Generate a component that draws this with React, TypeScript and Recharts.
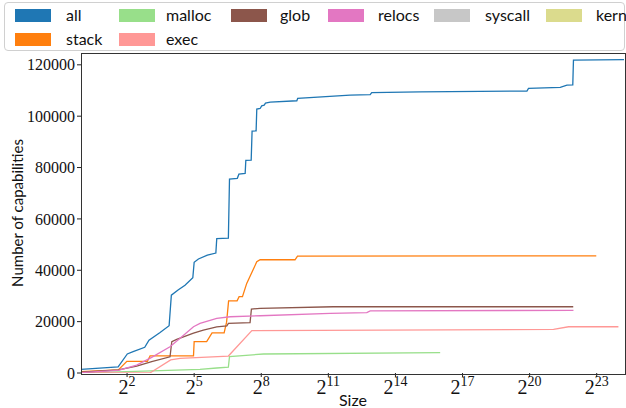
import React from "react";
import { Line, LineChart, XAxis, YAxis } from "recharts";

// x values are log2(size), y values are cumulative capability counts
const allLog2Size = [-0.06, 1.6, 2.01, 2.27, 2.79, 2.98, 3.46, 3.88, 3.98, 4.28, 4.59, 4.94, 5.0, 5.19, 5.59, 5.97, 6.01, 6.53, 6.58, 6.93, 7.0, 7.28, 7.31, 7.55, 7.59, 7.77, 7.8, 7.95, 8.02, 8.13, 8.19, 8.4, 9.59, 9.63, 11.97, 12.87, 12.94, 15.1, 19.88, 19.95, 21.37, 21.67, 21.93, 21.96, 24.22];
const allCount = [1400, 2400, 7400, 8300, 10000, 12800, 15700, 18400, 30300, 32300, 34200, 37100, 43100, 44400, 45900, 46700, 52300, 52500, 75500, 75800, 77400, 77700, 82800, 82900, 94200, 94300, 102800, 103000, 104000, 104300, 105100, 105500, 106000, 106900, 108200, 108400, 109200, 109500, 109800, 110800, 111200, 112100, 112200, 121800, 122000];

const stackLog2Size = [-0.06, 1.61, 1.99, 2.91, 3.03, 4.97, 5.0, 5.56, 5.8, 6.34, 6.45, 6.54, 6.92, 7.01, 7.16, 7.35, 7.8, 7.95, 9.51, 9.62, 22.98];
const stackCount = [500, 1200, 4550, 4550, 6700, 6700, 12200, 12200, 15600, 15600, 19800, 28100, 28100, 29700, 29700, 34900, 43300, 44100, 44100, 45500, 45600];

const globLog2Size = [-0.06, 1.61, 2.43, 3.1, 3.92, 4.0, 4.22, 4.97, 5.41, 6.01, 6.46, 6.53, 7.5, 7.56, 7.95, 11.21, 21.95];
const globCount = [300, 1200, 2700, 4400, 6300, 12200, 13100, 15500, 16700, 18000, 18300, 19300, 19600, 24900, 25200, 25800, 25800];

const relocsLog2Size = [-0.06, 1.61, 2.43, 3.1, 3.92, 4.37, 4.97, 5.26, 6.01, 6.61, 7.95, 11.08, 12.72, 12.87, 21.96];
const relocsCount = [150, 1050, 3100, 6100, 10200, 13500, 18000, 19300, 21300, 21900, 22300, 23200, 23500, 24200, 24400];

const execLog2Size = [-0.06, 3.02, 3.95, 4.37, 6.53, 7.58, 21.07, 21.74, 23.97];
const execCount = [0, 0, 5100, 5700, 6600, 16500, 17000, 18000, 18000];

const mallocLog2Size = [-0.06, 1.6, 3.48, 5.26, 6.01, 6.53, 6.58, 8.1, 16.0];
const mallocCount = [0, 400, 900, 1400, 1950, 2300, 6400, 7400, 7900];

const xTicks = [2, 5, 8, 11, 14, 17, 20, 23];
const yTicks = [0, 20000, 40000, 60000, 80000, 100000, 120000];

const series = [
  { name: "all", color: "#1f77b4", xs: allLog2Size, ys: allCount },
  { name: "malloc", color: "#98df8a", xs: mallocLog2Size, ys: mallocCount },
  { name: "glob", color: "#8c564b", xs: globLog2Size, ys: globCount },
  { name: "relocs", color: "#e377c2", xs: relocsLog2Size, ys: relocsCount },
  { name: "syscall", color: "#c7c7c7", xs: [] as number[], ys: [] as number[] },
  { name: "kern", color: "#dbdb8d", xs: [] as number[], ys: [] as number[] },
  { name: "stack", color: "#ff7f0e", xs: stackLog2Size, ys: stackCount },
  { name: "exec", color: "#ff9896", xs: execLog2Size, ys: execCount },
];

const drawOrder = ["all", "stack", "malloc", "exec", "glob", "relocs"];

const legendPos: Record<string, [number, number, number]> = {
  all: [15, 9, 66],
  malloc: [119, 9, 166],
  glob: [231, 9, 280],
  relocs: [328, 9, 378],
  syscall: [434, 9, 485],
  kern: [546, 9, 596],
  stack: [15, 33, 66],
  exec: [119, 33, 166],
};

const sans = "Lato, 'Open Sans', sans-serif";
const serif = "'Liberation Serif', serif";

function PowTick(props: any) {
  const { x, y, payload } = props;
  return (
    <text x={x} y={y} textAnchor="middle" fontFamily={serif} fill="#111">
      <tspan fontSize={20} dy={15}>2</tspan>
      <tspan fontSize={14} dy={-8}>{payload.value}</tspan>
    </text>
  );
}

export default function App() {
  return (
    <div style={{ position: "absolute", left: 0, top: 0, width: 626, height: 408, background: "#fff", overflow: "hidden" }}>
      <LineChart width={626} height={408} margin={{ top: 53, right: 2, bottom: 0, left: 0 }}>
        <XAxis
          type="number"
          dataKey="x"
          domain={[-0.06, 24.22]}
          allowDataOverflow
          ticks={xTicks}
          tick={<PowTick />}
          height={35}
          axisLine={false}
          tickLine={{ stroke: "#222" }}
          tickSize={4}
        />
        <YAxis
          type="number"
          dataKey="y"
          domain={[0, 124600]}
          allowDataOverflow
          ticks={yTicks}
          width={81}
          axisLine={false}
          tickLine={{ stroke: "#222" }}
          tickSize={4}
          tickMargin={2}
          tick={{ fill: "#111", fontSize: 16, fontFamily: serif }}
        />
        {drawOrder.map((n) => {
          const s = series.find((q) => q.name === n)!;
          const data = s.xs.map((x, i) => ({ x, y: s.ys[i] }));
          return (
            <Line
              key={n}
              data={data}
              dataKey="y"
              type="linear"
              stroke={s.color}
              strokeWidth={1.3}
              dot={false}
              isAnimationActive={false}
            />
          );
        })}
      </LineChart>
      <div
        style={{
          position: "absolute",
          left: 80.5,
          top: 52.5,
          width: 543,
          height: 320,
          border: "1px solid #333",
          pointerEvents: "none",
        }}
      />
      <div
        style={{
          position: "absolute",
          left: 4,
          top: 2,
          width: 619,
          height: 47,
          border: "1px solid #d0d0d0",
          borderRadius: 4,
          background: "rgba(255,255,255,0.9)",
        }}
      />
      {series.map((s) => {
        const [px, py, tx] = legendPos[s.name];
        return (
          <React.Fragment key={s.name}>
            <div style={{ position: "absolute", left: px, top: py, width: 36, height: 13, background: s.color }} />
            <div
              style={{
                position: "absolute",
                left: tx,
                top: py - 5,
                fontFamily: sans,
                fontSize: 16,
                lineHeight: "22px",
                color: "#111",
              }}
            >
              {s.name}
            </div>
          </React.Fragment>
        );
      })}
      <div
        style={{
          position: "absolute",
          left: 0,
          width: 626,
          top: 392,
          height: 16,
          textAlign: "center",
          paddingLeft: 80,
          boxSizing: "border-box",
          fontFamily: sans,
          fontSize: 16,
          color: "#111",
          lineHeight: "16px",
        }}
      >
        Size
      </div>
      <div
        style={{
          position: "absolute",
          left: 17,
          top: 213,
          transform: "translate(-50%, -50%) rotate(-90deg)",
          whiteSpace: "nowrap",
          fontFamily: sans,
          fontSize: 15,
          color: "#111",
        }}
      >
        Number of capabilities
      </div>
    </div>
  );
}
